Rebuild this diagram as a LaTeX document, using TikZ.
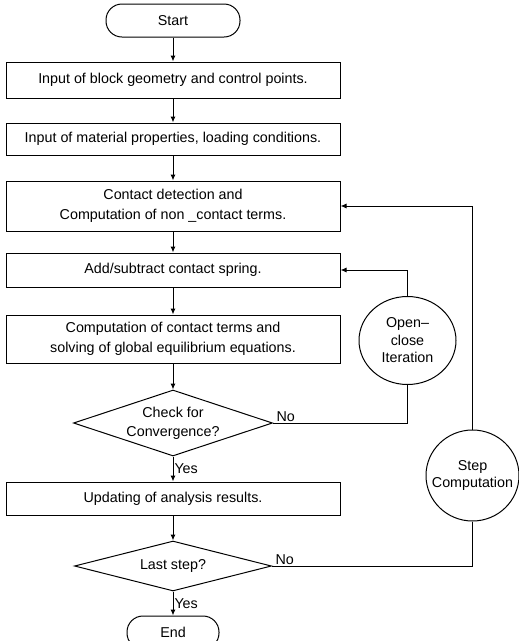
\documentclass[tikz,border=0pt]{standalone}
\usepackage{fontspec}
\setmainfont{Liberation Sans}
\usetikzlibrary{arrows.meta,positioning,shapes.geometric}
\tikzset{
  block/.style   ={rectangle, draw, line width=1pt, align=center,
                   minimum width=334pt, inner sep=2pt, font=\fontsize{14.3}{19.5}\selectfont},
  term/.style    ={rectangle, rounded corners=16pt, draw, line width=1pt,
                   minimum height=33pt, font=\fontsize{14.3}{16}\selectfont},
  decide/.style  ={diamond, draw, line width=1pt, align=center, inner sep=-1pt,
                   font=\fontsize{14.3}{19}\selectfont},
  loopnode/.style={ellipse, draw, line width=1pt, align=center, inner sep=0pt,
                   font=\fontsize{14.3}{17.5}\selectfont},
  link/.style    ={line width=1pt},
  flow/.style    ={-{Latex[length=6pt,width=5pt]}, line width=1pt},
  lbl/.style     ={font=\fontsize{14.3}{16}\selectfont, inner sep=1pt},
}
\begin{document}
\begin{tikzpicture}
    \useasboundingbox (0,0) rectangle (519pt,-641pt);

    \node[term, minimum width=134pt] (start) at (173pt,-20.5pt) {Start};
    \node[block, minimum height=36pt, below=24pt of start] (geom)
        {Input of block geometry and control points.};
    \node[block, minimum height=32pt, below=24pt of geom] (mat)
        {Input of material properties, loading conditions.};
    \node[block, minimum height=50pt, below=25pt of mat] (detect)
        {Contact detection and\\Computation of non \_contact terms.};
    \node[block, minimum height=34pt, below=21pt of detect] (spring)
        {Add/subtract contact spring.};
    \node[block, minimum height=48pt, below=27pt of spring] (solve)
        {Computation of contact terms and\\solving of global equilibrium equations.};
    \node[decide, aspect=3, minimum width=199pt, minimum height=66pt, below=26pt of solve] (conv)
        {Check for\\Convergence?};
    \node[block, minimum height=33pt, below=25pt of conv] (update)
        {Updating of analysis results.};
    \node[decide, aspect=4, minimum width=197pt, minimum height=50pt, below=25pt of update] (last)
        {Last step?};
    \node[term, minimum width=92pt, below=24pt of last] (end) {End};

    % loop nodes
    \node[loopnode, minimum width=97pt, minimum height=88pt] (iter)
        at (407.5pt,-340.5pt) {Open--\\close\\Iteration};
    \node[loopnode, minimum width=93pt, minimum height=91pt, inner xsep=-8pt] (stepc)
        at (472.5pt,-475.5pt) {Step\\Computation};

    \foreach \a/\b in {start/geom,geom/mat,mat/detect,detect/spring,spring/solve,solve/conv,update/last}
        \draw[flow] (\a) -- (\b);
    \draw[flow] (conv) -- node[lbl, right] {Yes} (update);
    \draw[flow] (last) -- node[lbl, right] {Yes} (end);

    \draw[link] (conv.east) -| node[lbl, anchor=south west, pos=0, xshift=2pt] {No} (iter.south);
    \draw[flow] (iter.north) |- (spring.east);
    \draw[link] (last.east) -| node[lbl, anchor=south west, pos=0, xshift=2pt] {No} (stepc.south);
    \draw[flow] (stepc.north) |- (detect.east);
\end{tikzpicture}
\end{document}
